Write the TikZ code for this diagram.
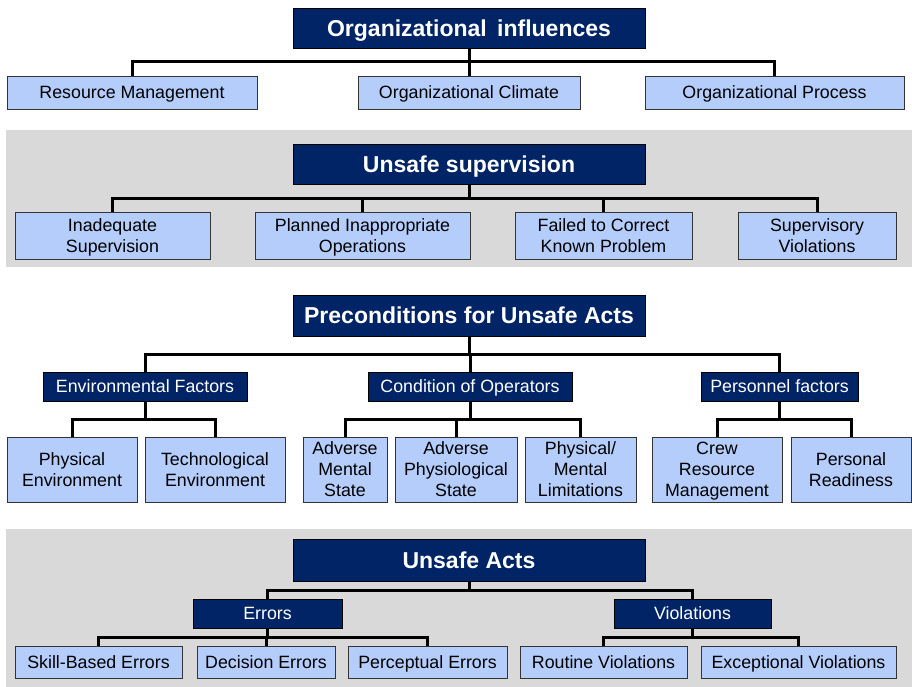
\documentclass[tikz,border=0pt]{standalone}
\usepackage{fontspec}
\setmainfont{Liberation Sans}
\usetikzlibrary{calc}

\definecolor{navy}{RGB}{0,36,102}
\definecolor{paleblue}{RGB}{180,205,250}
\definecolor{bandgray}{RGB}{217,217,217}

% cap heights: 17.8pt text -> 12.75pt, 23pt bold -> 16.5pt
\tikzset{
  base/.style={rectangle, inner sep=0pt, align=center, text depth=0pt},
  headbox/.style={base, fill=navy, draw=black, line width=0.9pt, text=white,
    text height=16.5pt, font=\fontsize{23}{27}\selectfont\bfseries},
  groupbox/.style={base, fill=navy, draw=black, line width=0.9pt, text=white,
    text height=12.75pt, font=\fontsize{17.8}{21}\selectfont},
  leafbox/.style={base, fill=paleblue, draw=black!80, line width=0.9pt, text=black,
    text height=12.75pt, font=\fontsize{17.8}{21}\selectfont},
  twolines/.style={text height=33.75pt},
  threelines/.style={text height=54.75pt},
  link/.style={draw=black, line width=3pt, line join=miter},
  band/.style={fill=bandgray, draw=none}
}

\newcommand{\branch}[2]{%
  \draw[link] (#1.south) |- ($(#1.south)!.5!(#2.north)$) -| (#2.north);}

\begin{document}
\begin{tikzpicture}[x=1pt, y=-1pt]
  \useasboundingbox (0,0) rectangle (912,687);

  % shaded bands behind the second and fourth tiers
  \fill[band] (6,130) rectangle (912,267);
  \fill[band] (6,529) rectangle (912,687);

  % ---- Organizational influences ----
  \node[headbox, minimum width=352pt, minimum height=40pt] (t1) at (469,28) {Organizational\hspace{0.45em}influences};
  \node[leafbox, minimum width=250pt, minimum height=33pt] (rm) at (132,92.5) {Resource Management};
  \node[leafbox, minimum width=222pt, minimum height=33pt] (oc) at (469,92.5) {Organizational Climate};
  \node[leafbox, minimum width=259pt, minimum height=33pt] (op) at (774.5,92.5) {Organizational Process};

  % ---- Unsafe supervision ----
  \node[headbox, minimum width=352pt, minimum height=40pt] (t2) at (469,164) {Unsafe supervision};
  \node[leafbox, twolines, minimum width=195pt, minimum height=47pt] (is) at (112.5,235.5) {Inadequate\\Supervision};
  \node[leafbox, twolines, minimum width=215pt, minimum height=47pt] (pio) at (362.5,235.5) {Planned Inappropriate\\Operations};
  \node[leafbox, twolines, minimum width=177pt, minimum height=47pt] (fc) at (603.5,235.5) {Failed to Correct\\Known Problem};
  \node[leafbox, twolines, minimum width=158pt, minimum height=47pt] (sv) at (817,235.5) {Supervisory\\Violations};

  % ---- Preconditions for Unsafe Acts ----
  \node[headbox, minimum width=352pt, minimum height=41pt] (t3) at (469,315.5) {Preconditions for Unsafe Acts};
  \node[groupbox, minimum width=204pt, minimum height=29pt] (ef) at (145,386.5) {Environmental Factors};
  \node[groupbox, minimum width=204pt, minimum height=29pt] (co) at (470,386.5) {Condition of Operators};
  \node[groupbox, minimum width=157pt, minimum height=29pt] (pf) at (779.5,386.5) {Personnel factors};

  \node[leafbox, twolines, minimum width=130pt, minimum height=65pt] (pe) at (72,469.5) {Physical\\Environment};
  \node[leafbox, twolines, minimum width=140pt, minimum height=65pt] (te) at (215,469.5) {Technological\\Environment};
  \node[leafbox, threelines, minimum width=84pt, minimum height=65pt] (am) at (345,469.5) {Adverse\\Mental\\State};
  \node[leafbox, threelines, minimum width=122pt, minimum height=65pt] (aps) at (456,469.5) {Adverse\\Physiological\\State};
  \node[leafbox, threelines, minimum width=111pt, minimum height=65pt] (pml) at (580.5,469.5) {Physical/\\Mental\\Limitations};
  \node[leafbox, threelines, minimum width=130pt, minimum height=65pt] (crm) at (717,469.5) {Crew\\Resource\\Management};
  \node[leafbox, twolines, minimum width=120pt, minimum height=65pt] (pr) at (851,469.5) {Personal\\Readiness};

  % ---- Unsafe Acts ----
  \node[headbox, minimum width=352pt, minimum height=42pt] (t4) at (469,560) {Unsafe Acts};
  \node[groupbox, minimum width=149pt, minimum height=29pt] (er) at (267.5,613.5) {Errors};
  \node[groupbox, minimum width=157pt, minimum height=29pt] (vi) at (692.5,613.5) {Violations};

  \node[leafbox, minimum width=167pt, minimum height=32pt] (sbe) at (98.5,662) {Skill-Based Errors};
  \node[leafbox, minimum width=138pt, minimum height=32pt] (de) at (266,662) {Decision Errors};
  \node[leafbox, minimum width=159pt, minimum height=32pt] (pce) at (427.5,662) {Perceptual Errors};
  \node[leafbox, minimum width=167pt, minimum height=32pt] (rv) at (603.5,662) {Routine Violations};
  \node[leafbox, minimum width=195pt, minimum height=32pt] (ev) at (798.5,662) {Exceptional Violations};

  % ---- connectors ----
  \branch{t1}{rm} \branch{t1}{oc} \branch{t1}{op}
  \branch{t2}{is} \branch{t2}{pio} \branch{t2}{fc} \branch{t2}{sv}
  \branch{t3}{ef} \branch{t3}{co} \branch{t3}{pf}
  \branch{ef}{pe} \branch{ef}{te}
  \branch{co}{am} \branch{co}{aps} \branch{co}{pml}
  \branch{pf}{crm} \branch{pf}{pr}
  \branch{t4}{er} \branch{t4}{vi}
  \branch{er}{sbe} \branch{er}{de} \branch{er}{pce}
  \branch{vi}{rv} \branch{vi}{ev}
\end{tikzpicture}
\end{document}
